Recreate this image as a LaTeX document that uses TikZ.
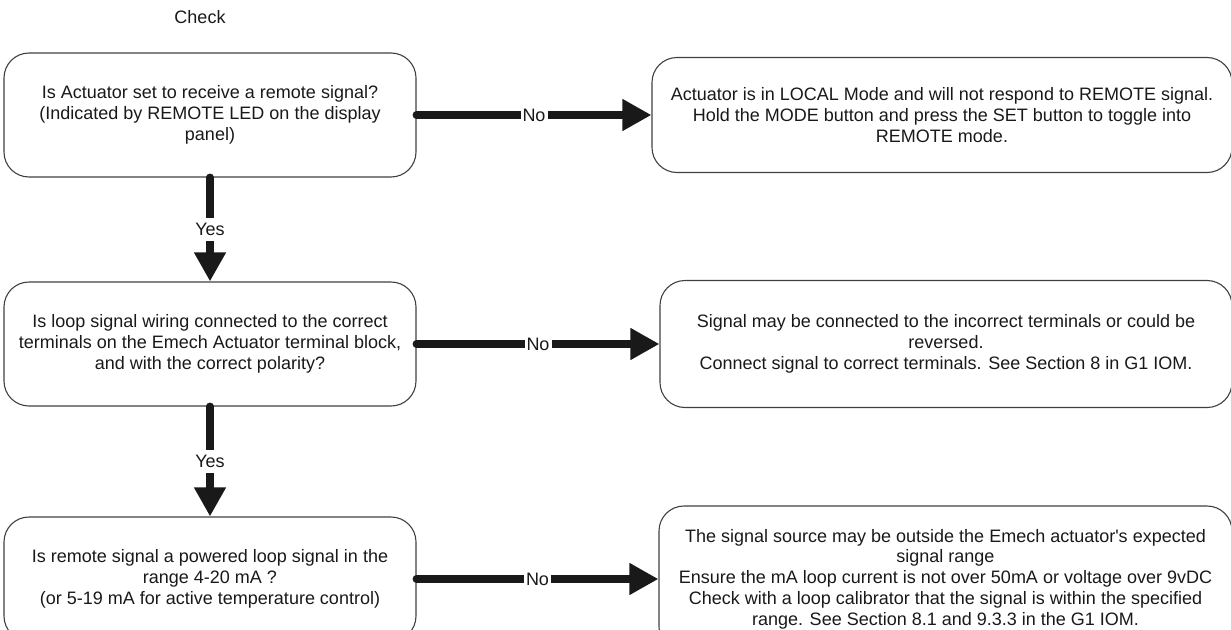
\documentclass[tikz,border=0pt]{standalone}
\usepackage{fontspec}
\setmainfont{Liberation Sans}[Ligatures=TeXOff]
\usetikzlibrary{arrows.meta}
\begin{document}
\begin{tikzpicture}[x=1pt,y=-1pt,
  every node/.style={font=\fontsize{18}{20.7}\selectfont, text=black!90},
  box/.style={draw=black!75, line width=1.1pt, rounded corners=25pt, rectangle,
    align=center, inner sep=0pt},
  conn/.style={draw=black!90, line width=8pt, line cap=round,
    -{Triangle[length=29pt,width=30pt]}},
  lbl/.style={fill=white, inner xsep=2pt, inner ysep=5pt}]
\useasboundingbox (0,0) rectangle (1231,629);
\clip (0,0) rectangle (1231,629);

\node (check) at (200,17) {Check};

\node[box, minimum width=412pt, minimum height=124pt] (L1) at (210,115)
  {Is Actuator set to receive a remote signal?\\(Indicated by REMOTE LED on the display\\panel)};
\node[box, minimum width=580pt, minimum height=115pt] (R1) at (942,115)
  {Actuator is in LOCAL Mode and will not respond to REMOTE signal.\\Hold the MODE button and press the SET button to toggle into\\REMOTE mode.};

\node[box, minimum width=412pt, minimum height=124pt] (L2) at (210,344)
  {Is loop signal wiring connected to the correct\\terminals on the Emech Actuator terminal block,\\and with the correct polarity?};
\node[box, minimum width=572pt, minimum height=127pt] (R2) at (946,344)
  {Signal may be connected to the incorrect terminals or could be\\reversed.\\Connect signal to correct terminals. See Section 8 in G1 IOM.};

\node[box, minimum width=412pt, minimum height=124pt] (L3) at (210,579)
  {Is remote signal a powered loop signal in the\\range 4-20 mA ?\\(or 5-19 mA for active temperature control)};
\node[box, minimum width=573pt, minimum height=146pt] (R3) at (945.5,579)
  {The signal source may be outside the Emech actuator's expected\\signal range\\Ensure the mA loop current is not over 50mA or voltage over 9vDC\\Check with a loop calibrator that the signal is within the specified\\range. See Section 8.1 and 9.3.3 in the G1 IOM.};

\draw[conn] (L1.east) -- node[lbl] {No} (R1.west);
\draw[conn] (L2.east) -- node[lbl] {No} (R2.west);
\draw[conn] (L3.east) -- node[lbl] {No} (R3.west);
\draw[conn] (L1.south) -- node[lbl] {Yes} (L2.north);
\draw[conn] (L2.south) -- node[lbl] {Yes} (L3.north);
\end{tikzpicture}
\end{document}
